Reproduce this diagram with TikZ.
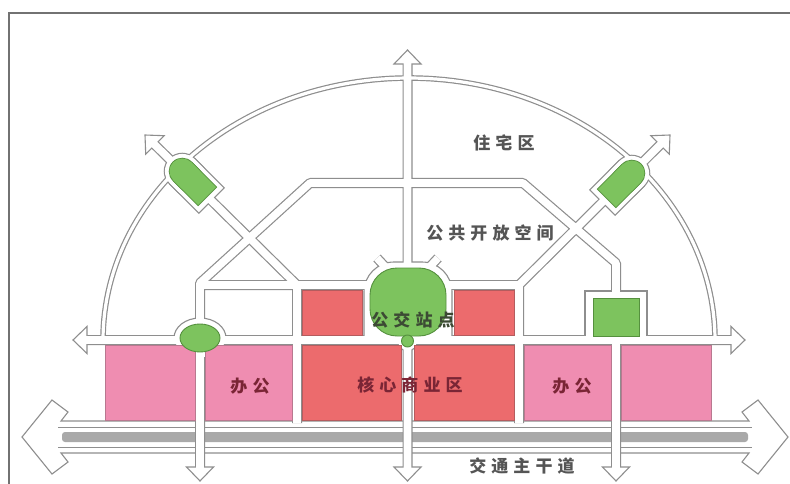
\documentclass[tikz,border=0pt]{standalone}
\usepackage{fontspec}
\newfontfamily\cjk[LetterSpace=30]{Noto Sans CJK SC}
\definecolor{rg}{HTML}{8E8E8E}
\definecolor{frm}{HTML}{727272}
\definecolor{band}{HTML}{A9A9A9}
\definecolor{pinkb}{HTML}{EF8DB1}
\definecolor{pinkd}{HTML}{B8788F}
\definecolor{redb}{HTML}{EC6B6D}
\definecolor{redd}{HTML}{B45C5E}
\definecolor{grn}{HTML}{7DC35E}
\definecolor{grnd}{HTML}{55903E}
\definecolor{txtg}{HTML}{555555}
\definecolor{txtgr}{HTML}{3C4A34}
\definecolor{txtr}{HTML}{7A2535}
\tikzset{
  roadg/.style={rg, line width=10, line join=round},
  roadw/.style={white, line width=7.6, line join=round},
  arcg/.style={rg, line width=5.6},
  arcw/.style={white, line width=3.2},
  head/.style={draw=rg, fill=white, line width=1.1, line join=miter},
  ring/.style={draw=rg, fill=white, line width=1.1},
  pinkblk/.style={fill=pinkb, draw=pinkd, line width=0.8},
  redblk/.style={fill=redb, draw=redd, line width=0.8},
  grnshape/.style={fill=grn, draw=grnd, line width=0.9},
  lbl/.style={font=\cjk\bfseries\fontsize{17}{17}\selectfont, inner sep=0pt},
}
\newcommand\roadnet{(407.5,62) -- (407.5,470)
  (200,470) -- (200,283) -- (310,183) -- (523,183) -- (616,263) -- (616,470)
  (152,142) -- (297,285) -- (297,423)
  (200,285) -- (372,285)
  (444,285) -- (519,285) -- (519,423)
  (663,142) -- (519,285)
  (85,340) -- (733,340)
  (390,272) -- (377,258)
  (425,272) -- (438,258)}
\newcommand\arcnet{plot[domain=0:180,samples=120] ({409+306*cos(\x)},{340-262*sin(\x)})}
\newcommand\capring[3]{\begin{scope}[shift={(#1,#2)},rotate=#3]
  \draw[rg,line width=37,line cap=round] (-11,0) -- (0,0);
  \draw[rg,line width=37] (-11,0) -- (31,0);
  \draw[white,line width=34.6,line cap=round] (-11,0) -- (0,0);
  \draw[white,line width=34.6] (-11,0) -- (29.8,0);
\end{scope}}
\newcommand\capgreen[3]{\begin{scope}[shift={(#1,#2)},rotate=#3]
  \draw[grnd,line width=27,line cap=round] (-11,0) -- (0,0);
  \draw[grnd,line width=27] (-11,0) -- (25,0);
  \draw[grn,line width=25.4,line cap=round] (-11,0) -- (0,0);
  \draw[grn,line width=25.4] (-11,0) -- (24.2,0);
\end{scope}}
\begin{document}
\begin{tikzpicture}[x=1pt,y=-1pt]
\useasboundingbox (0,0) rectangle (790,484);
\fill[white] (0,0) rectangle (790,484);
% frame
\draw[frm, line width=2.2] (9,484) -- (9,13) -- (790,13);
% main road with big arrows
\draw[rg, line width=1.1, fill=white, line join=miter] (61,421) -- (68,412) -- (52,400) -- (22,437) -- (52,474) -- (68,462) -- (61,453)
  -- (749,453) -- (742,462) -- (758,474) -- (788,437) -- (758,400) -- (742,412) -- (749,421) -- cycle;
\draw[rg, line width=0.8] (58,427) -- (752,427) (58,447) -- (752,447);
\fill[band, rounded corners=3] (62,432) rectangle (748,442);
% gray pass
\draw[arcg] \arcnet;
\draw[roadg] \roadnet;
% rings
\draw[ring, rounded corners=30] (364,342) -- (364,262) -- (452,262) -- (452,342);
\draw[ring] (407.5,341) circle[radius=10];
\draw[ring] (200,338) ellipse[x radius=26, y radius=20];
\draw[ring] (585,341) -- (585,291) -- (647,291) -- (647,341);
\capring{190}{179}{-45}
\capring{624}{181}{-135}
% small arrow heads
\draw[head] (407.5,50) -- (421,64) -- (394,64) -- cycle;
\draw[head] (200,481) -- (213.5,467) -- (186.5,467) -- cycle;
\draw[head] (407.5,481) -- (421,467) -- (394,467) -- cycle;
\draw[head] (616,481) -- (629.5,467) -- (602.5,467) -- cycle;
\draw[head] (73,340) -- (87,326.5) -- (87,353.5) -- cycle;
\draw[head] (745,340) -- (731,326.5) -- (731,353.5) -- cycle;
\draw[head] (145,135) -- (164.1,135.7) -- (145.7,154.1) -- cycle;
\draw[head] (670,135) -- (650.9,135.7) -- (669.3,154.1) -- cycle;
% white pass
\draw[arcw] \arcnet;
\draw[roadw] \roadnet;
% blocks
\draw[pinkblk] (105,345) rectangle (195,420);
\draw[pinkblk] (205,345) rectangle (292,420);
\draw[redblk] (302,345) rectangle (401,420);
\draw[redblk] (414,345) rectangle (514,420);
\draw[pinkblk] (524,345) rectangle (611,420);
\draw[pinkblk] (621,345) rectangle (711,420);
\draw[redblk] (302,290) rectangle (362,335);
\draw[redblk] (454,290) rectangle (514,335);
% green
\draw[grnshape, rounded corners=27] (370,336) -- (370,268) -- (446,268) -- (446,336) -- cycle;
\draw[grnshape] (407.5,341) circle[radius=6];
\draw[grnshape] (200,338) ellipse[x radius=20, y radius=14];
\draw[grnshape] (593,298) rectangle (639,336);
\capgreen{190}{179}{-45}
\capgreen{624}{181}{-135}
% labels
\node[lbl, text=txtg] (zhuzhai) at (504,143) {住宅区};
\node[lbl, text=txtg] (gonggong) at (490,233) {公共开放空间};
\node[lbl, text=txtgr] (gongjiao) at (413,320) {公交站点};
\node[lbl, text=txtr] (hexin) at (410,385) {核心商业区};
\node[lbl, text=txtr] (bangong1) at (250,386) {办公};
\node[lbl, text=txtr] (bangong2) at (572,386) {办公};
\node[lbl, text=txtg] (jiaotong) at (522,466) {交通主干道};
\end{tikzpicture}
\end{document}
